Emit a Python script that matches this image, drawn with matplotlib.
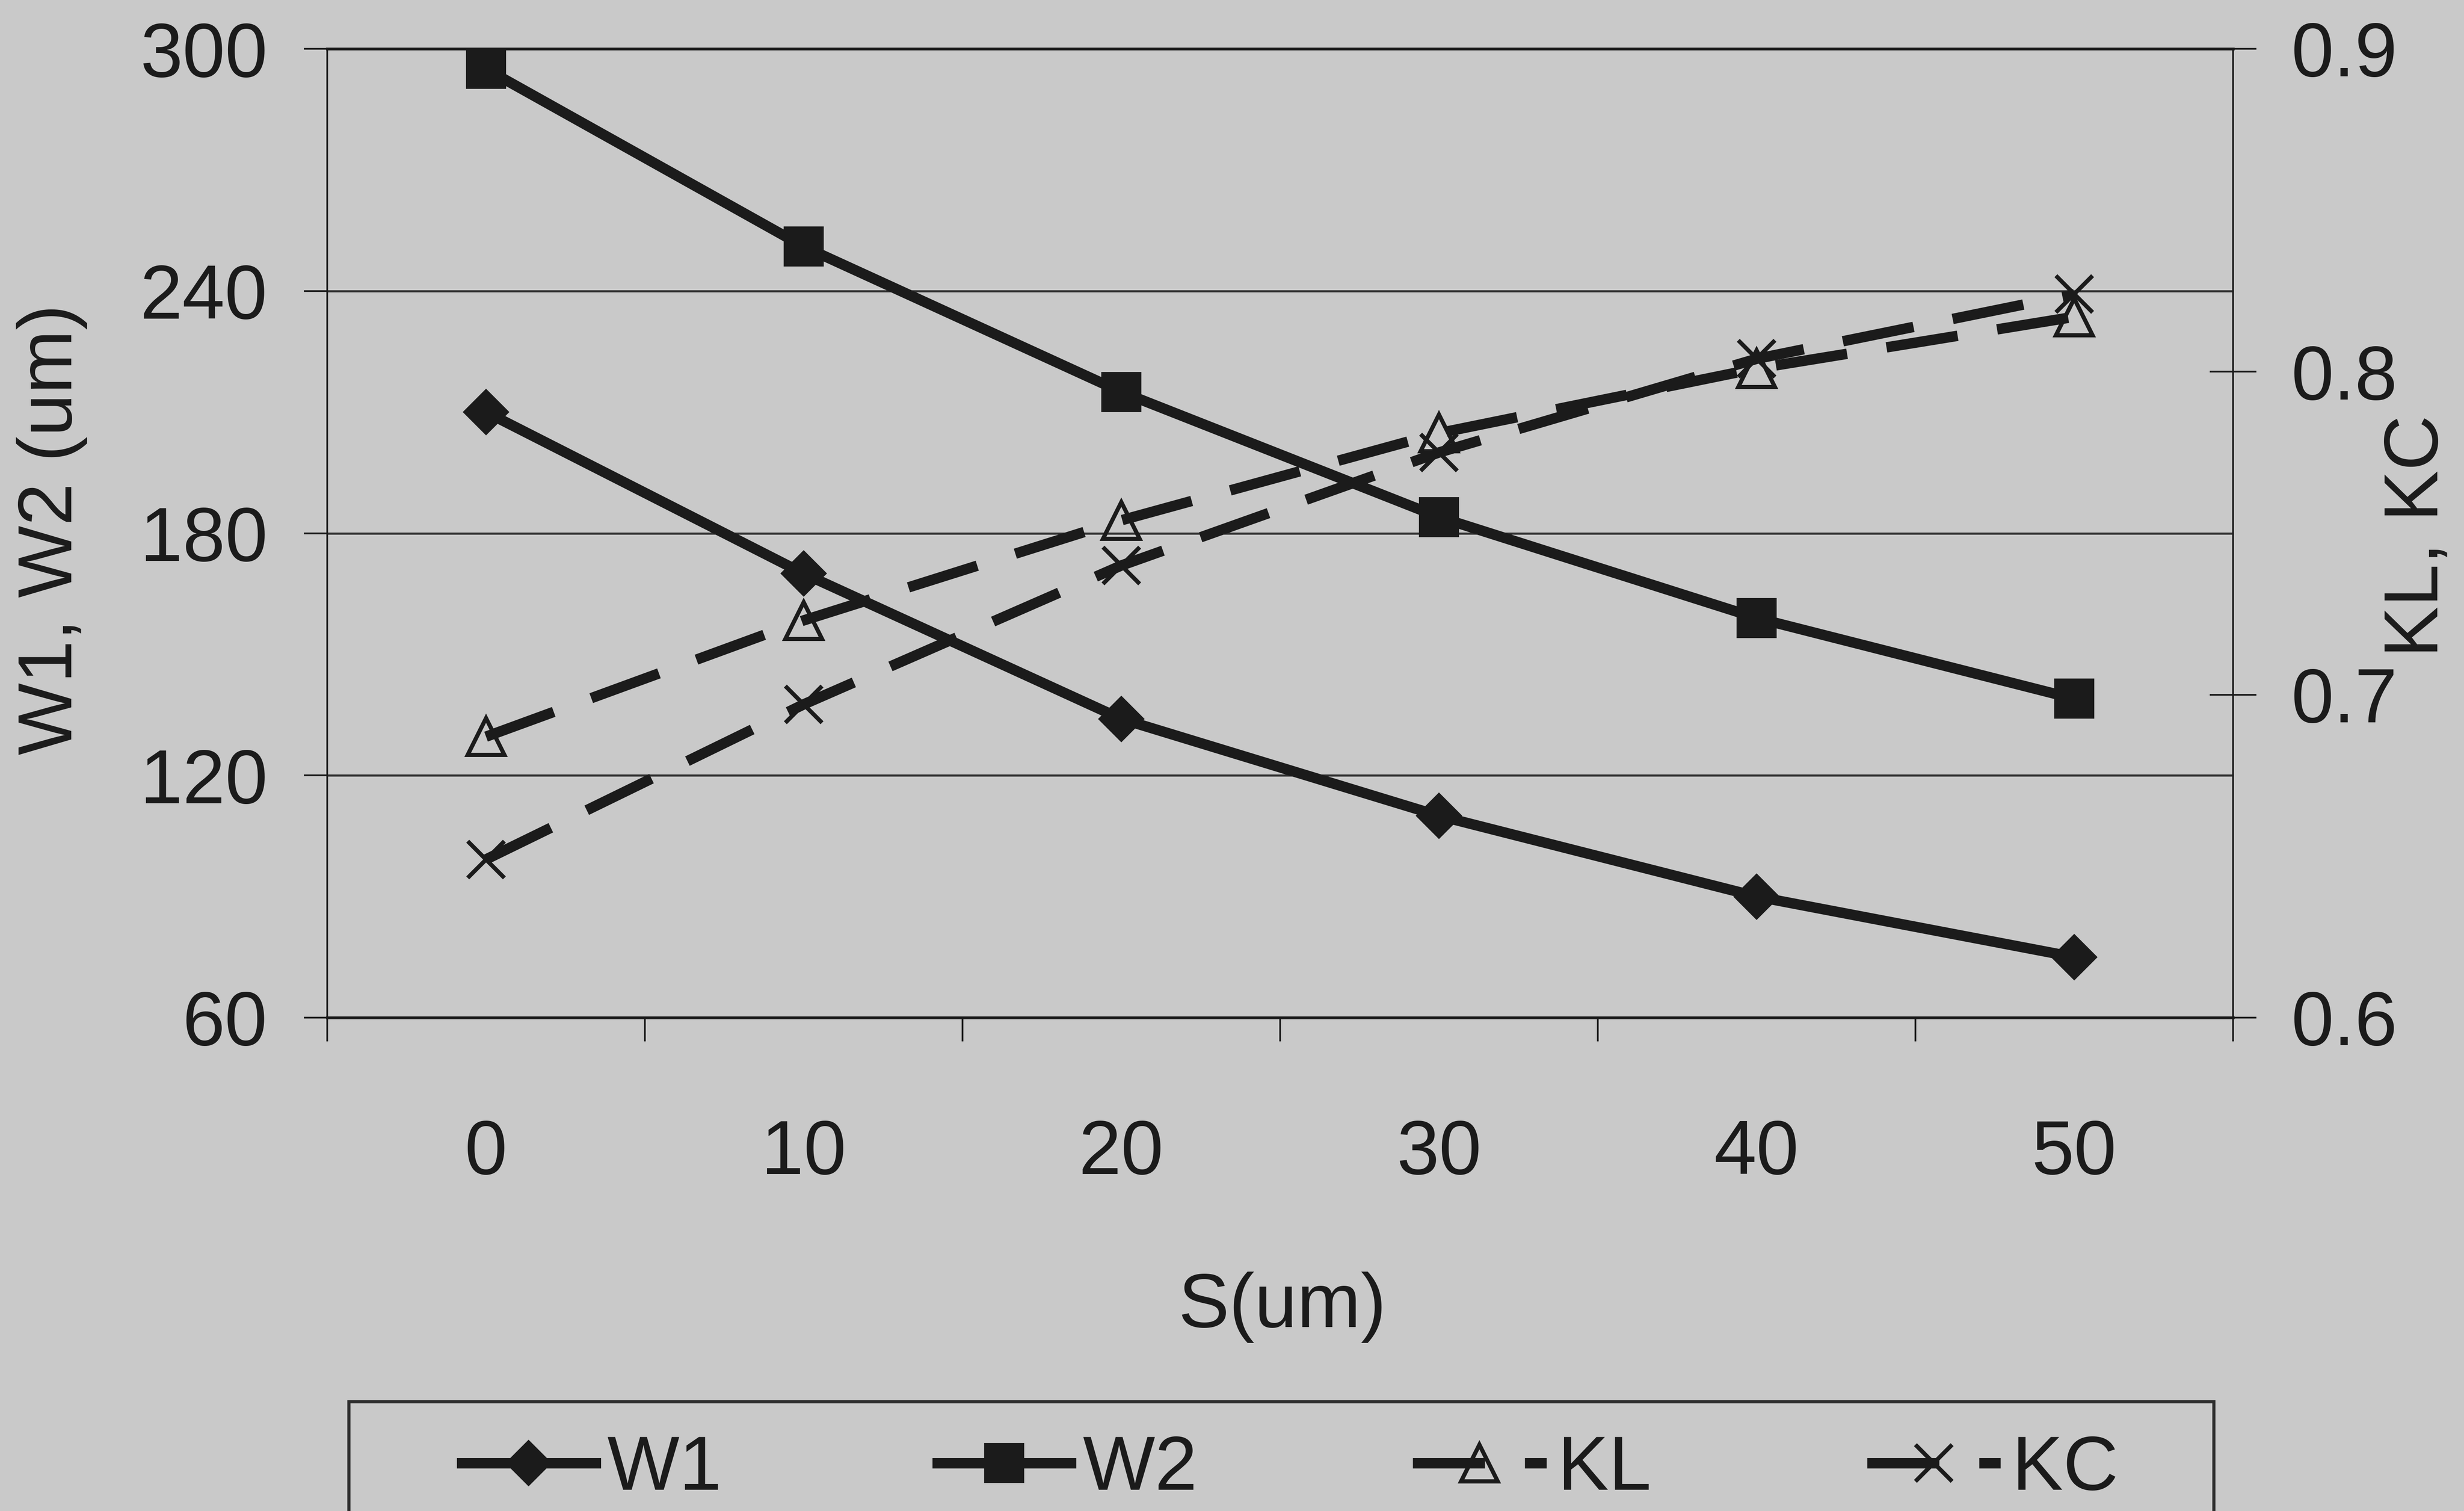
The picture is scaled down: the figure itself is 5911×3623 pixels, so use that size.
import matplotlib
matplotlib.use("Agg")
import matplotlib.pyplot as plt
from matplotlib.patches import Rectangle
from matplotlib.ticker import FixedLocator, FuncFormatter

plt.rcParams['font.family'] = ['Liberation Sans', 'DejaVu Sans']
plt.rcParams['lines.scale_dashes'] = False

# Spacing S (um) and the measured series
s_um = [0, 10, 20, 30, 40, 50]
w1 = [210, 170, 134, 110, 90, 75]
w2 = [295, 251, 215, 184, 159, 139]
kl = [0.687, 0.723, 0.754, 0.781, 0.801, 0.817]
kc = [0.649, 0.697, 0.740, 0.775, 0.804, 0.824]
left_ticks = [60, 120, 180, 240, 300]
right_ticks = [0.6, 0.7, 0.8, 0.9]

W, H, DPI = 5911, 3623, 300
BG = '#c9c9c9'
INK = '#1b1b1b'
GRID = '#2e2e2e'
FS = 44
LW = 6


def fx(px):
    return px / W


def fy(py):
    return 1 - py / H


fig = plt.figure(figsize=(W / DPI, H / DPI), dpi=DPI, facecolor=BG)
ax = fig.add_axes([fx(785), fy(2440), fx(5357) - fx(785), fy(117) - fy(2440)])
ax.set_facecolor(BG)
ax2 = ax.twinx()
ax2.patch.set_visible(False)

# x axis: category labels centred, tick marks between categories
step = s_um[1] - s_um[0]
ax.set_xlim(s_um[0] - step / 2, s_um[-1] + step / 2)
ax.xaxis.set_major_locator(FixedLocator(s_um))
ax.xaxis.set_minor_locator(FixedLocator([v - step / 2 for v in s_um] + [s_um[-1] + step / 2]))
ax.tick_params(axis='x', which='major', length=0, pad=58, labelsize=FS, colors=INK)
ax.tick_params(axis='x', which='minor', length=13.7, width=1.0, direction='out', color=INK)

# left axis
ax.set_ylim(left_ticks[0], left_ticks[-1])
ax.yaxis.set_major_locator(FixedLocator(left_ticks))
ax.tick_params(axis='y', which='major', length=13.4, width=1.0, direction='out',
               pad=21, labelsize=FS, colors=INK)
ax.grid(axis='y', color=GRID, lw=1.2)
ax.set_axisbelow(True)

# right axis
ax2.set_ylim(right_ticks[0], right_ticks[-1])
ax2.yaxis.set_major_locator(FixedLocator(right_ticks))
ax2.yaxis.set_major_formatter(FuncFormatter(lambda v, _: f'{v:.1f}'))
ax2.tick_params(axis='y', which='major', length=27, width=1.0, direction='inout',
                pad=20, labelsize=FS, colors=INK)

for name, sp in ax.spines.items():
    sp.set_color(INK)
ax.spines['left'].set_linewidth(1.0)
ax.spines['top'].set_linewidth(1.6)
ax.spines['bottom'].set_linewidth(1.6)
ax.spines['right'].set_visible(False)
for name, sp in ax2.spines.items():
    sp.set_visible(name == 'right')
ax2.spines['right'].set_linewidth(1.0)
ax2.spines['right'].set_color(INK)

dash = (0, (41.5, 23))
l1, = ax.plot(s_um, w1, color=INK, lw=LW, marker='D', ms=18, mfc=INK, mec=INK,
              mew=1, label='W1', clip_on=False, zorder=3)
l2, = ax.plot(s_um, w2, color=INK, lw=LW, marker='s', ms=22, mfc=INK, mec=INK,
              mew=1, label='W2', clip_on=False, zorder=3)
l3, = ax2.plot(s_um, kl, color=INK, lw=LW, ls=dash, marker='^', ms=21, mfc='none',
               mec=INK, mew=2.4, label='KL', clip_on=False, zorder=3)
l4, = ax2.plot(s_um, kc, color=INK, lw=LW, ls=dash, marker='x', ms=21,
               mec=INK, mew=2.4, label='KC', clip_on=False, zorder=3)

# axis titles
fig.text(fx(125), fy(1270), 'W1, W2 (um)', rotation=90, ha='center', va='center',
         fontsize=FS, color=INK)
fig.text(fx(5800), fy(1286), 'KL, KC', rotation=90, ha='center', va='center',
         fontsize=FS, color=INK)
fig.text(fx(3076), fy(3135), 'S(um)', ha='center', va='center', fontsize=FS, color=INK)

# legend: frameless row plus a separate box
fig.legend(handles=[l1, l2, l3, l4], loc='center left',
           bbox_to_anchor=(fx(1108), fy(3525)), ncol=4, frameon=False, fontsize=FS,
           handlelength=1.75, handletextpad=0.15, columnspacing=2.82,
           borderpad=0, borderaxespad=0, numpoints=1, labelcolor=INK)
fig.add_artist(Rectangle((fx(837), fy(3700)), fx(5311) - fx(837), fy(3361) - fy(3700),
                         transform=fig.transFigure, fill=False, ec=GRID, lw=1.8))

fig.savefig('out.png', dpi=DPI, facecolor=BG)
